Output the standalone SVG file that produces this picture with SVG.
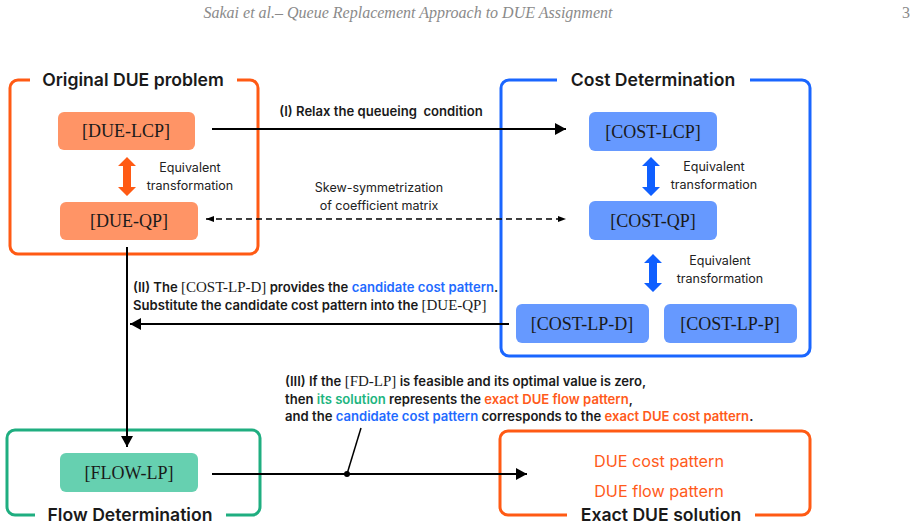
<svg xmlns="http://www.w3.org/2000/svg" width="919" height="529" viewBox="0 0 919 529">
<style>
.hdr{font-family:"Liberation Serif",serif;font-style:italic;font-size:16px;fill:#8a8a8a}
.title{font-family:Inter,"Liberation Sans",sans-serif;font-weight:600;font-size:17.6px;fill:#1a1a1a;text-anchor:middle}
.node{font-family:"Liberation Serif",serif;font-size:18px;fill:#1a1a1a;text-anchor:middle}
.eq{font-family:Inter,"Liberation Sans",sans-serif;font-size:12.5px;fill:#222;text-anchor:middle}
.lab{font-family:Inter,"Liberation Sans",sans-serif;font-weight:600;font-size:13.1px;fill:#1a1a1a}
.ser{font-family:"Liberation Serif",serif;font-weight:normal;font-size:15px}
.blue{fill:#1f6bff}.green{fill:#1db57f}.orange{fill:#ff5a1a}
.frameO{fill:none;stroke:#ff5a14;stroke-width:3}
.frameB{fill:none;stroke:#1a66ff;stroke-width:3}
.frameG{fill:none;stroke:#1fae80;stroke-width:3}
.nO{fill:#ff9466}.nB{fill:#6699ff}.nG{fill:#66d0b0}
.ln{stroke:#000;stroke-width:2;fill:none}
.ex{font-family:Inter,"Liberation Sans",sans-serif;font-size:16.2px;fill:#ff5a1a;text-anchor:middle}
</style>
<defs>
<marker id="ah" markerWidth="12" markerHeight="12" refX="11" refY="6" orient="auto" markerUnits="userSpaceOnUse">
<path d="M0,0 L11,6 L0,12 z" fill="#000"/>
</marker>
<marker id="ahs" markerWidth="8" markerHeight="8" refX="8" refY="4" orient="auto-start-reverse" markerUnits="userSpaceOnUse">
<path d="M0,1 L8,4 L0,7 z" fill="#000"/>
</marker>
</defs>

<text class="hdr" x="408" y="18" text-anchor="middle">Sakai et al.– Queue Replacement Approach to DUE Assignment</text>
<text class="hdr" x="910" y="18" text-anchor="end" style="font-style:normal">3</text>

<g id="original-due">
<path class="frameO" d="M30,80 H18 A8,8 0 0 0 10,88 V246 A8,8 0 0 0 18,254 H250 A8,8 0 0 0 258,246 V88 A8,8 0 0 0 250,80 H237"/>
<text class="title" x="133" y="86">Original DUE problem</text>
</g>
<g id="cost-determination">
<path class="frameB" d="M557,80 H509 A8,8 0 0 0 501,88 V348 A8,8 0 0 0 509,356 H802 A8,8 0 0 0 810,348 V88 A8,8 0 0 0 802,80 H750"/>
<text class="title" x="653" y="86">Cost Determination</text>
</g>
<g id="flow-determination">
<path class="frameG" d="M35,515 H15 A8,8 0 0 1 7,507 V438 A8,8 0 0 1 15,430 H252 A8,8 0 0 1 260,438 V507 A8,8 0 0 1 252,515 H226"/>
<text class="title" x="130" y="521">Flow Determination</text>
</g>
<g id="exact-due">
<path class="frameO" d="M567,515 H508 A8,8 0 0 1 500,507 V439 A8,8 0 0 1 508,431 H802 A8,8 0 0 1 810,439 V507 A8,8 0 0 1 802,515 H755"/>
<text class="title" x="661" y="521">Exact DUE solution</text>
<text class="ex" x="659" y="467">DUE cost pattern</text>
<text class="ex" x="659" y="497">DUE flow pattern</text>
</g>

<g id="due-lcp"><rect class="nO" x="58" y="112" width="137" height="38" rx="6"/><text class="node" x="126" y="137">[DUE-LCP]</text></g>
<g id="due-qp"><rect class="nO" x="60" y="202" width="138" height="38" rx="6"/><text class="node" x="129" y="227">[DUE-QP]</text></g>
<g id="cost-lcp"><rect class="nB" x="589" y="112" width="128" height="39" rx="6"/><text class="node" x="653" y="138">[COST-LCP]</text></g>
<g id="cost-qp"><rect class="nB" x="589" y="201" width="128" height="39" rx="6"/><text class="node" x="653" y="227">[COST-QP]</text></g>
<g id="cost-lp-d"><rect class="nB" x="516" y="304" width="133" height="39" rx="6"/><text class="node" x="582" y="330">[COST-LP-D]</text></g>
<g id="cost-lp-p"><rect class="nB" x="664" y="304" width="133" height="39" rx="6"/><text class="node" x="730" y="330">[COST-LP-P]</text></g>
<g id="flow-lp"><rect class="nG" x="60" y="453" width="138" height="39" rx="6"/><text class="node" x="129" y="479">[FLOW-LP]</text></g>

<g id="connectors">
<polygon fill="#ff5a14" points="127,157 136,166 131,166 131,187 136,187 127,196 118,187 123,187 123,166 118,166"/>
<polygon fill="#0f5fff" points="651,157 660,166 655,166 655,187 660,187 651,196 642,187 647,187 647,166 642,166"/>
<polygon fill="#0f5fff" points="653,254 662,263 657,263 657,283 662,283 653,292 644,283 649,283 649,263 644,263"/>
<text class="eq" x="190" y="172">Equivalent</text>
<text class="eq" x="190" y="190">transformation</text>
<text class="eq" x="714" y="171">Equivalent</text>
<text class="eq" x="714" y="189">transformation</text>
<text class="eq" x="720" y="265">Equivalent</text>
<text class="eq" x="720" y="283">transformation</text>

<line class="ln" x1="212" y1="129" x2="566" y2="129" marker-end="url(#ah)"/>
<text class="lab" x="381" y="116" text-anchor="middle" xml:space="preserve">(I) Relax the queueing  condition</text>

<line x1="206" y1="219" x2="566" y2="219" stroke="#000" stroke-width="1.5" stroke-dasharray="6,4" marker-start="url(#ahs)" marker-end="url(#ahs)"/>
<text class="eq" x="379" y="192">Skew-symmetrization</text>
<text class="eq" x="379" y="210">of coefficient matrix</text>

<line class="ln" x1="509" y1="324" x2="130" y2="324" marker-end="url(#ah)"/>
<line class="ln" x1="127" y1="247" x2="127" y2="447" marker-end="url(#ah)"/>
<text class="lab" x="133" y="292">(II) The <tspan class="ser">[COST-LP-D]</tspan> provides the <tspan class="blue">candidate cost pattern</tspan>.</text>
<text class="lab" x="133" y="310">Substitute the candidate cost pattern into the <tspan class="ser">[DUE-QP]</tspan></text>

<line class="ln" x1="212" y1="474" x2="527" y2="474" marker-end="url(#ah)"/>
<line x1="347" y1="474" x2="361" y2="428" stroke="#000" stroke-width="1.5"/>
<circle cx="347" cy="474" r="3" fill="#000"/>
<text class="lab" x="285" y="386">(III) If the <tspan class="ser">[FD-LP]</tspan> is feasible and its optimal value is zero,</text>
<text class="lab" x="285" y="404">then <tspan class="green">its solution</tspan> represents the <tspan class="orange">exact DUE flow pattern</tspan>,</text>
<text class="lab" x="285" y="421">and the <tspan class="blue">candidate cost pattern</tspan> corresponds to the <tspan class="orange">exact DUE cost pattern</tspan>.</text>
</g>
</svg>
